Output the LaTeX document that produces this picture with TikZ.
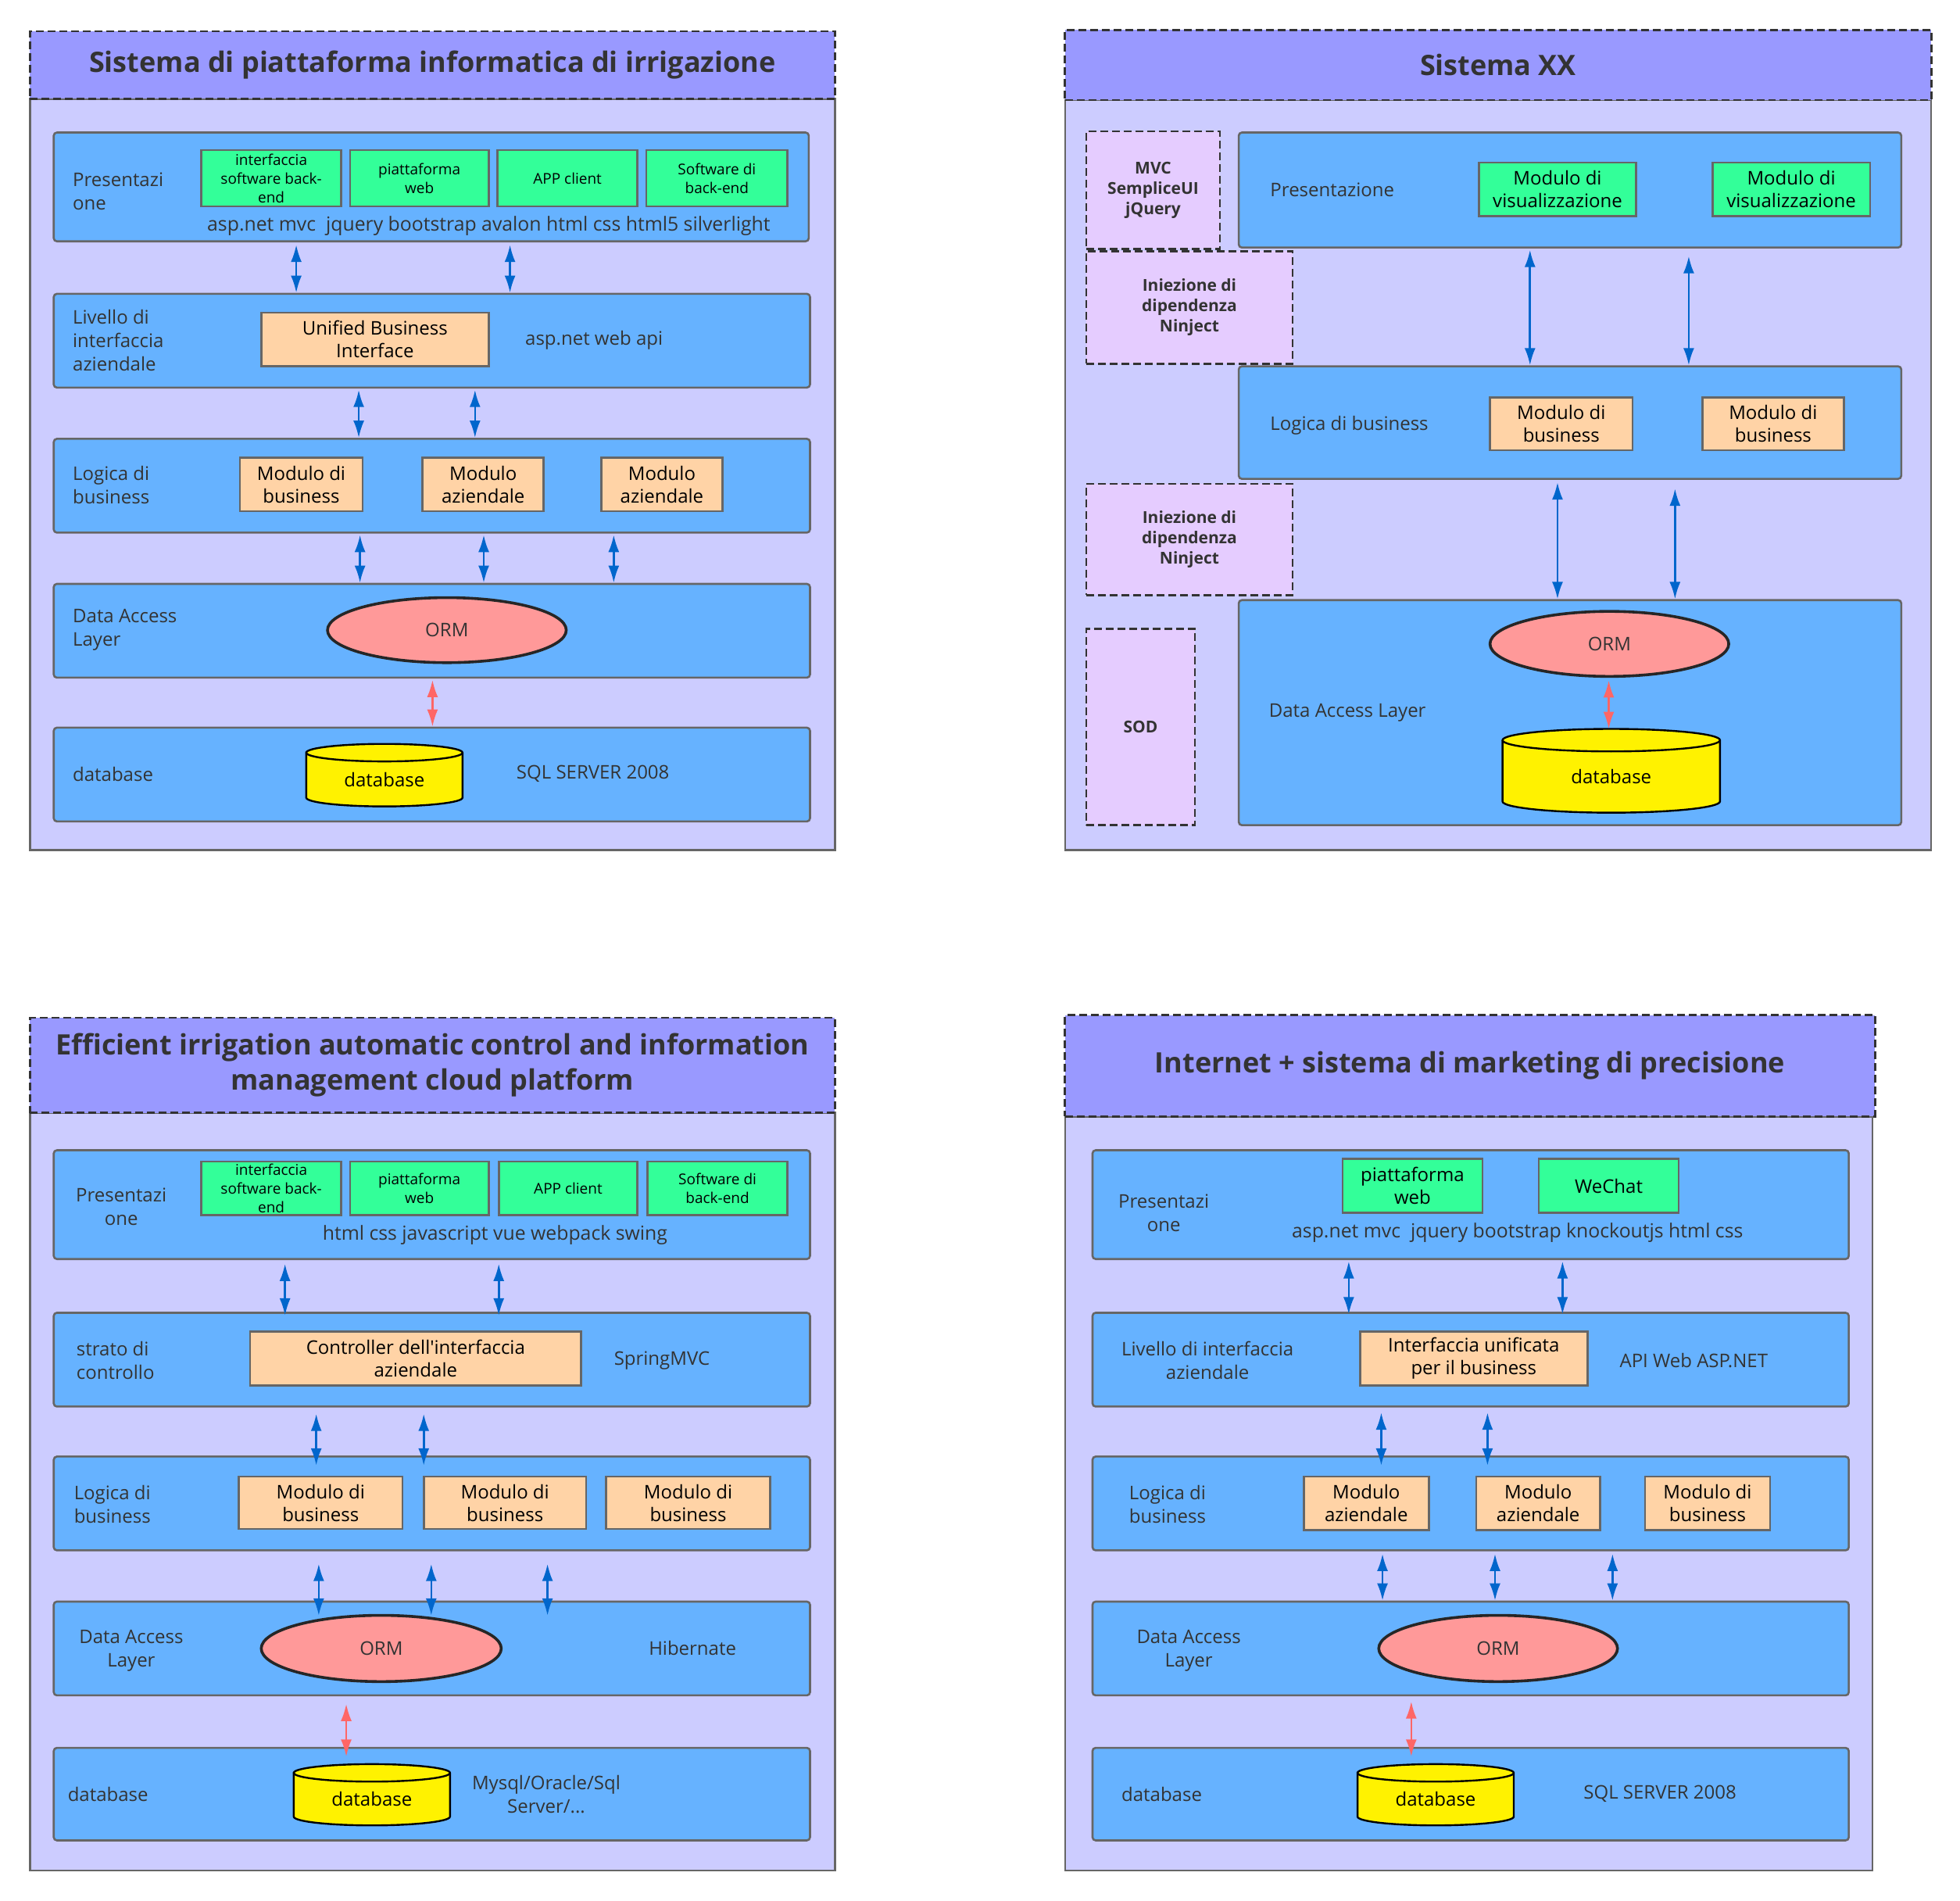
\documentclass[tikz,border=0pt]{standalone}
\usepackage{fontspec}
\setmainfont{Open Sans}
\usetikzlibrary{arrows.meta,shapes.geometric,calc}
\definecolor{titlec}{HTML}{9999FF}
\definecolor{bodyc}{HTML}{CCCCFF}
\definecolor{layerc}{HTML}{66B2FF}
\definecolor{greenc}{HTML}{33FF99}
\definecolor{peachc}{HTML}{FFD3A6}
\definecolor{ormc}{HTML}{FF9999}
\definecolor{sidec}{HTML}{E5CCFF}
\definecolor{darkc}{HTML}{333333}
\definecolor{edgec}{HTML}{666666}
\definecolor{bluec}{HTML}{0066CC}
\definecolor{redc}{HTML}{FF6666}
\newcommand\rbox[7]{%
  \pgfmathsetmacro\rbcx{(#3+#5)/2}%
  \pgfmathsetmacro\rbcy{(#4+#6)/2}%
  \pgfmathsetmacro\rbw{(#5-#3)*0.8}%
  \pgfmathsetmacro\rbh{(#6-#4)*0.8}%
  \node[#2,minimum width=\rbw pt,minimum height=\rbh pt] (#1) at (\rbcx,\rbcy) {#7};%
}
\newcommand\cyl[7]{%
  \pgfmathsetmacro\cyrx{(#4-#2)/2}%
  \pgfmathsetmacro\cycx{(#4+#2)/2}%
  \filldraw[cylst] (#2,#3+#6) -- (#2,#5-#6) arc[start angle=180,end angle=0,x radius=\cyrx,y radius=#6] -- (#4,#3+#6) arc[start angle=0,end angle=-180,x radius=\cyrx,y radius=#6] -- cycle;
  \draw[cylst,fill=none] (#2,#3+#6) arc[start angle=180,end angle=0,x radius=\cyrx,y radius=#6];
  \coordinate (#1top) at (\cycx,#3);
  \rbox{#1}{cyltext}{#2}{#3+#6}{#4}{#5}{#7}%
}
\newcommand\varr[6]{\draw[#1] ($(#2,0 |- #3)+(0,#5)$) -- ($(#2,0 |- #4)+(0,#6)$);}
\begin{document}
\begin{tikzpicture}[x=0.8pt,y=-0.8pt,
  titlest/.style={draw=darkc,fill=titlec,line width=1.3pt,dash pattern=on 5pt off 2.5pt,inner sep=0pt,align=center,text=darkc,font=\fontsize{18}{22.4}\selectfont\bfseries},
  bodyst/.style={draw=edgec,fill=bodyc,line width=1.2pt,inner sep=0pt},
  layer/.style={draw=edgec,fill=layerc,line width=1.3pt,rounded corners=2pt,inner sep=0pt},
  gbox/.style={draw=edgec,fill=greenc,line width=1.3pt,inner sep=0pt,align=center,text=black,font=\fontsize{12}{14.5}\selectfont},
  gsmall/.style={gbox,font=\fontsize{9.5}{12}\selectfont},
  pbox/.style={draw=edgec,fill=peachc,line width=1.3pt,inner sep=0pt,align=center,text=black,font=\fontsize{12}{14.5}\selectfont},
  side/.style={draw=darkc,fill=sidec,line width=1.3pt,dash pattern=on 5pt off 2.5pt,inner sep=0pt,align=center,text=darkc,font=\fontsize{10.5}{13}\selectfont\bfseries},
  orm/.style={ellipse,draw=black!85,fill=ormc,line width=1.8pt,inner sep=0pt,text=darkc,font=\fontsize{12}{14.5}\selectfont},
  cylst/.style={draw=black,fill=yellow,line width=1.2pt},
  cyltext/.style={inner sep=0pt,text=black,font=\fontsize{12}{14.5}\selectfont},
  lbl/.style={inner sep=0pt,text=darkc,font=\fontsize{12}{15}\selectfont,align=left},
  lblc/.style={lbl,align=center},
  tech/.style={lbl,font=\fontsize{12.4}{15}\selectfont},
  barrow/.style={draw=bluec,line width=1.3pt,{Latex[length=11pt,width=7pt]}-{Latex[length=11pt,width=7pt]}},
  rarrow/.style={draw=redc,line width=1.3pt,{Latex[length=11pt,width=7pt]}-{Latex[length=11pt,width=7pt]}}
]
\useasboundingbox (0,0) rectangle (1568,1520);
\fill[white] (0,0) rectangle (1568,1520);

%% ---------------- Panel 1 ----------------
\rbox{p1b}{bodyst}{24}{79}{668}{680}{}
\rbox{p1t}{titlest}{24}{25}{668}{79}{Sistema di piattaforma informatica di irrigazione}
\rbox{p1l1}{layer}{43}{106}{647}{193}{}
\rbox{p1l2}{layer}{43}{235}{648}{310}{}
\rbox{p1l3}{layer}{43}{351}{648}{426}{}
\rbox{p1l4}{layer}{43}{467}{648}{542}{}
\rbox{p1l5}{layer}{43}{582}{648}{657}{}
\node[lbl,anchor=west] (p1n1) at (58,153) {Presentazi\\one};
\node[lbl,anchor=west] (p1n2) at (58,272) {Livello di\\interfaccia\\aziendale};
\node[lbl,anchor=west] (p1n3) at (58,388) {Logica di\\business};
\node[lbl,anchor=west] (p1n4) at (58,504) {Data Access\\Layer};
\node[lbl,anchor=west] (p1n5) at (58,619) {database};
\rbox{p1g1}{gsmall}{161}{120}{273}{165}{interfaccia\\software back-\\end}
\rbox{p1g2}{gsmall}{280}{120}{391}{165}{piattaforma\\web}
\rbox{p1g3}{gsmall}{398}{120}{510}{165}{APP client}
\rbox{p1g4}{gsmall}{517}{120}{630}{165}{Software di\\back-end}
\node[tech] (p1tech) at (391,181) {asp.net mvc\ \ jquery bootstrap avalon html css html5 silverlight};
\rbox{p1u}{pbox}{209}{250}{391}{293}{Unified Business\\Interface}
\node[lbl,anchor=west] (p1api) at (420,272) {asp.net web api};
\rbox{p1m1}{pbox}{192}{366}{290}{409}{Modulo di\\business}
\rbox{p1m2}{pbox}{338}{366}{435}{409}{Modulo\\aziendale}
\rbox{p1m3}{pbox}{481}{366}{578}{409}{Modulo\\aziendale}
\rbox{p1o}{orm}{262}{478}{453}{530}{ORM}
\cyl{p1d}{245}{595}{370}{645}{7}{database}
\node[lbl,anchor=west] (p1sql) at (413,619) {SQL SERVER 2008};
\varr{barrow}{237}{p1l1.south}{p1l2.north}{2}{0}
\varr{barrow}{408}{p1l1.south}{p1l2.north}{2}{0}
\varr{barrow}{287}{p1l2.south}{p1l3.north}{1}{0}
\varr{barrow}{380}{p1l2.south}{p1l3.north}{1}{0}
\varr{barrow}{288}{p1l3.south}{p1l4.north}{1}{0}
\varr{barrow}{387}{p1l3.south}{p1l4.north}{1}{0}
\varr{barrow}{491}{p1l3.south}{p1l4.north}{1}{0}
\varr{rarrow}{346}{p1l4.south}{p1l5.north}{1}{0}

%% ---------------- Panel 2 ----------------
\rbox{p2b}{bodyst}{852}{80}{1545}{680}{}
\rbox{p2t}{titlest}{852}{24}{1545}{80}{Sistema XX}
\rbox{p2s1}{side}{869}{105}{976}{199}{MVC\\SempliceUI\\jQuery}
\rbox{p2s2}{side}{869}{201}{1034}{291}{Iniezione di\\dipendenza\\Ninject}
\rbox{p2s3}{side}{869}{387}{1034}{476}{Iniezione di\\dipendenza\\Ninject}
\rbox{p2s4}{side}{869}{503}{956}{660}{SOD}
\rbox{p2l1}{layer}{991}{106}{1521}{198}{}
\rbox{p2l2}{layer}{991}{293}{1521}{383}{}
\rbox{p2l3}{layer}{991}{480}{1521}{660}{}
\node[lbl,anchor=west] (p2n1) at (1016,152) {Presentazione};
\node[lbl,anchor=west] (p2n2) at (1016,340) {Logica di business};
\node[lbl,anchor=west] (p2n3) at (1015,570) {Data Access Layer};
\rbox{p2g1}{gbox}{1183}{130}{1309}{173}{Modulo di\\visualizzazione}
\rbox{p2g2}{gbox}{1370}{130}{1496}{173}{Modulo di\\visualizzazione}
\rbox{p2m1}{pbox}{1192}{318}{1306}{360}{Modulo di\\business}
\rbox{p2m2}{pbox}{1362}{318}{1475}{360}{Modulo di\\business}
\rbox{p2o}{orm}{1192}{489}{1383}{541}{ORM}
\cyl{p2d}{1202}{583}{1376}{650}{9}{database}
\varr{barrow}{1224}{p2l1.south}{p2l2.north}{1}{0}
\varr{barrow}{1351}{p2l1.south}{p2l2.north}{6}{0}
\varr{barrow}{1246}{p2l2.south}{p2l3.north}{2}{0}
\varr{barrow}{1340}{p2l2.south}{p2l3.north}{7}{0}
\varr{rarrow}{1287}{p2o.south}{p2dtop}{2}{0}

%% ---------------- Panel 3 ----------------
\rbox{p3b}{bodyst}{24}{890}{668}{1496}{}
\rbox{p3t}{titlest}{24}{814}{668}{890}{Efficient irrigation automatic control and information\\management cloud platform}
\rbox{p3l1}{layer}{43}{920}{648}{1007}{}
\rbox{p3l2}{layer}{43}{1050}{648}{1125}{}
\rbox{p3l3}{layer}{43}{1165}{648}{1240}{}
\rbox{p3l4}{layer}{43}{1281}{648}{1356}{}
\rbox{p3l5}{layer}{43}{1398}{648}{1472}{}
\node[lblc] (p3n1) at (97,965) {Presentazi\\one};
\node[lbl,anchor=west] (p3n2) at (61,1088) {strato di\\controllo};
\node[lbl,anchor=west] (p3n3) at (59,1203) {Logica di\\business};
\node[lblc] (p3n4) at (105,1320) {Data Access\\Layer};
\node[lbl,anchor=west] (p3n5) at (54,1435) {database};
\rbox{p3g1}{gsmall}{161}{929}{273}{972}{interfaccia\\software back-\\end}
\rbox{p3g2}{gsmall}{280}{929}{391}{972}{piattaforma\\web}
\rbox{p3g3}{gsmall}{399}{929}{510}{972}{APP client}
\rbox{p3g4}{gsmall}{518}{929}{630}{972}{Software di\\back-end}
\node[tech] (p3tech) at (396,988) {html css javascript vue webpack swing};
\rbox{p3c}{pbox}{200}{1065}{465}{1108}{Controller dell\textquotesingle interfaccia\\aziendale}
\node[lbl,anchor=west] (p3spr) at (491,1088) {SpringMVC};
\rbox{p3m1}{pbox}{191}{1181}{322}{1223}{Modulo di\\business}
\rbox{p3m2}{pbox}{339}{1181}{469}{1223}{Modulo di\\business}
\rbox{p3m3}{pbox}{485}{1181}{616}{1223}{Modulo di\\business}
\rbox{p3o}{orm}{209}{1292}{401}{1345}{ORM}
\node[lblc] (p3hib) at (554,1318) {Hibernate};
\cyl{p3d}{235}{1411}{360}{1460}{7}{database}
\node[lblc] (p3sql) at (437,1435) {Mysql/Oracle/Sql\\Server/...};
\varr{barrow}{228}{p3l1.south}{p3l2.north}{3}{3}
\varr{barrow}{399}{p3l1.south}{p3l2.north}{3}{3}
\varr{barrow}{253}{p3l2.south}{p3l3.north}{5}{8}
\varr{barrow}{339}{p3l2.south}{p3l3.north}{5}{8}
\varr{barrow}{255}{p3l3.south}{p3l4.north}{10}{12}
\varr{barrow}{345}{p3l3.south}{p3l4.north}{10}{12}
\varr{barrow}{438}{p3l3.south}{p3l4.north}{10}{12}
\varr{rarrow}{277}{p3l4.south}{p3dtop}{6}{-6}

%% ---------------- Panel 4 ----------------
\rbox{p4b}{bodyst}{852}{893}{1498}{1496}{}
\rbox{p4t}{titlest}{852}{812}{1500}{893}{Internet + sistema di marketing di precisione}
\rbox{p4l1}{layer}{874}{920}{1479}{1007}{}
\rbox{p4l2}{layer}{874}{1050}{1479}{1125}{}
\rbox{p4l3}{layer}{874}{1165}{1479}{1240}{}
\rbox{p4l4}{layer}{874}{1281}{1479}{1356}{}
\rbox{p4l5}{layer}{874}{1398}{1479}{1472}{}
\node[lblc] (p4n1) at (931,970) {Presentazi\\one};
\node[lblc] (p4n2) at (966,1088) {Livello di interfaccia\\aziendale};
\node[lblc] (p4n3) at (934,1203) {Logica di\\business};
\node[lblc] (p4n4) at (951,1320) {Data Access\\Layer};
\node[lbl,anchor=west] (p4n5) at (897,1435) {database};
\rbox{p4g1}{gbox}{1074}{927}{1186}{970}{piattaforma\\web}
\rbox{p4g2}{gbox}{1231}{927}{1343}{970}{WeChat}
\node[tech] (p4tech) at (1214,986) {asp.net mvc\ \ jquery bootstrap knockoutjs html css};
\rbox{p4i}{pbox}{1088}{1065}{1270}{1108}{Interfaccia unificata\\per il business}
\node[lblc] (p4api) at (1355,1088) {API Web ASP.NET};
\rbox{p4m1}{pbox}{1043}{1181}{1143}{1224}{Modulo\\aziendale}
\rbox{p4m2}{pbox}{1181}{1181}{1280}{1224}{Modulo\\aziendale}
\rbox{p4m3}{pbox}{1316}{1181}{1416}{1224}{Modulo di\\business}
\rbox{p4o}{orm}{1103}{1292}{1294}{1345}{ORM}
\cyl{p4d}{1086}{1411}{1211}{1460}{7}{database}
\node[lblc] (p4sql) at (1328,1435) {SQL SERVER 2008};
\varr{barrow}{1079}{p4l1.south}{p4l2.north}{1}{2}
\varr{barrow}{1250}{p4l1.south}{p4l2.north}{1}{2}
\varr{barrow}{1105}{p4l2.south}{p4l3.north}{4}{8}
\varr{barrow}{1190}{p4l2.south}{p4l3.north}{4}{8}
\varr{barrow}{1106}{p4l3.south}{p4l4.north}{2}{0}
\varr{barrow}{1196}{p4l3.south}{p4l4.north}{2}{0}
\varr{barrow}{1290}{p4l3.south}{p4l4.north}{2}{0}
\varr{rarrow}{1129}{p4l4.south}{p4dtop}{4}{-6}
\end{tikzpicture}
\end{document}
